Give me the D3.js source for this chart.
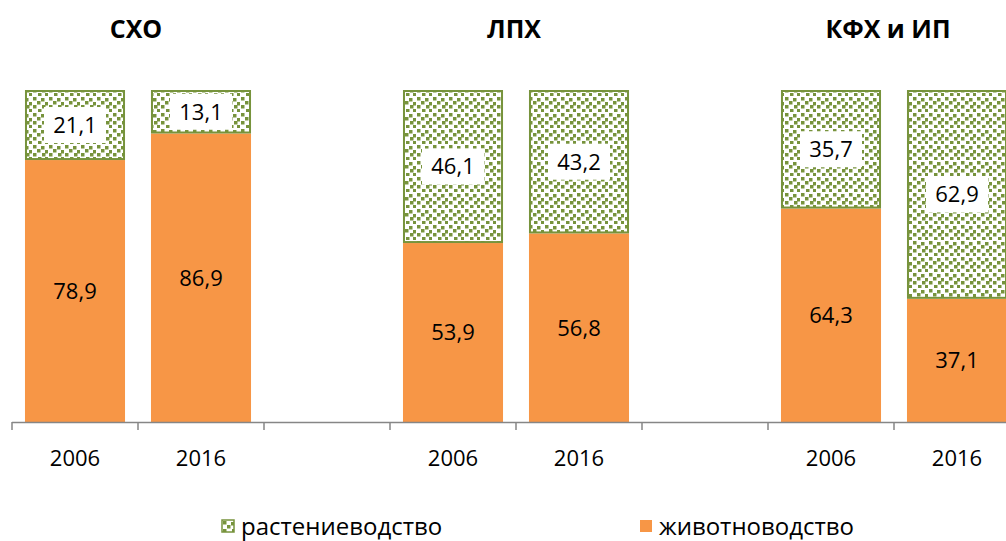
<!DOCTYPE html>
<html>
<head>
<meta charset="utf-8">
<script src="https://cdn.jsdelivr.net/npm/d3@7"></script>
<style>
  body { margin: 0; background: #fff; }
  svg text { font-family: "Open Sans", "Noto Sans", sans-serif; fill: #000; }
</style>
</head>
<body>
<div id="chart"></div>
<script>
// chart data
var categories = ["2006", "2016", "", "2006", "2016", "", "2006", "2016"];
var groups = ["СХО", "ЛПХ", "КФХ и ИП"];
var livestock = [78.9, 86.9, null, 53.9, 56.8, null, 64.3, 37.1];
var crops = [21.1, 13.1, null, 46.1, 43.2, null, 35.7, 62.9];
var seriesNames = ["растениеводство", "животноводство"];

var width = 1006, height = 541;
var orange = "#F79646", green = "#77933C";

var svg = d3.select("#chart").append("svg")
    .attr("width", width)
    .attr("height", height);

// confetti pattern (slightly jittered squares)
var defs = svg.append("defs");
var pat = defs.append("pattern")
    .attr("id", "confetti")
    .attr("patternUnits", "userSpaceOnUse")
    .attr("width", 16).attr("height", 16);
pat.append("rect").attr("width", 16).attr("height", 16).attr("fill", "#fff");
[[1, 1], [9, 2], [5, 5], [13, 6], [1, 9], [10, 9], [6, 13], [13, 13]].forEach(function (p) {
    pat.append("rect")
        .attr("x", p[0]).attr("y", p[1])
        .attr("width", 3.5).attr("height", 3.5)
        .attr("fill", green);
});

var keys = categories.map(function (d, i) { return i; });

var x = d3.scaleBand()
    .domain(keys)
    .range([12, 1020])
    .paddingInner(0.206)
    .paddingOuter(0.103);

var y = d3.scaleLinear()
    .domain([0, 100])
    .range([422, 90]);

var step = x.step();

// group titles
groups.forEach(function (g, i) {
    var cx = x(i * 3 + 1) - (step - x.bandwidth()) / 2;
    svg.append("text")
        .attr("x", i == 2 ? cx - 6 : cx - 2)
        .attr("y", 38)
        .attr("text-anchor", "middle")
        .style("font-size", "25px")
        .style("font-weight", "bold")
        .text(g);
});

var idx = keys.filter(function (i) { return livestock[i] != null; });

// livestock (bottom)
svg.selectAll(".live")
    .data(idx)
    .enter().append("rect")
    .attr("class", "live")
    .attr("x", function (i) { return x(i); })
    .attr("width", x.bandwidth())
    .attr("y", function (i) { return y(livestock[i]); })
    .attr("height", function (i) { return y(0) - y(livestock[i]); })
    .attr("fill", orange);

// crops (top)
svg.selectAll(".crop")
    .data(idx)
    .enter().append("rect")
    .attr("class", "crop")
    .attr("x", function (i) { return x(i) + 1; })
    .attr("width", x.bandwidth() - 2)
    .attr("y", function (i) { return y(livestock[i] + crops[i]) + 1; })
    .attr("height", function (i) { return y(livestock[i]) - y(livestock[i] + crops[i]) - 2; })
    .attr("fill", "url(#confetti)")
    .attr("stroke", green)
    .attr("stroke-width", 2);

// labels on livestock
svg.selectAll(".liveLabel")
    .data(idx)
    .enter().append("text")
    .attr("x", function (i) { return x(i) + x.bandwidth() / 2; })
    .attr("y", function (i) { return (y(0) + y(livestock[i])) / 2; })
    .attr("dy", "0.36em")
    .attr("text-anchor", "middle")
    .style("font-size", "22px")
    .text(function (i) { return String(livestock[i]).replace(".", ","); });

// labels on crops, white box behind
var cl = svg.selectAll(".cropLabel")
    .data(idx)
    .enter().append("g")
    .attr("transform", function (i) {
        var cy = (y(livestock[i]) + y(livestock[i] + crops[i])) / 2;
        return "translate(" + (x(i) + x.bandwidth() / 2) + "," + cy + ")";
    });
cl.append("rect")
    .attr("x", -31).attr("y", -18)
    .attr("width", 62).attr("height", 36)
    .attr("fill", "#fff");
cl.append("text")
    .attr("dy", "0.36em")
    .attr("text-anchor", "middle")
    .style("font-size", "22px")
    .text(function (i) { return String(crops[i]).replace(".", ","); });

// x axis
svg.append("line")
    .attr("x1", 12).attr("x2", width)
    .attr("y1", y(0) + 0.5).attr("y2", y(0) + 0.5)
    .attr("stroke", "#868686").attr("stroke-width", 1.5);

svg.selectAll(".tick")
    .data(keys)
    .enter().append("line")
    .attr("x1", function (i) { return x(i) - (step - x.bandwidth()) / 2; })
    .attr("x2", function (i) { return x(i) - (step - x.bandwidth()) / 2; })
    .attr("y1", y(0)).attr("y2", y(0) + 8)
    .attr("stroke", "#868686").attr("stroke-width", 1.5);

svg.selectAll(".year")
    .data(keys)
    .enter().append("text")
    .attr("x", function (i) { return x(i) + x.bandwidth() / 2; })
    .attr("y", 466)
    .attr("text-anchor", "middle")
    .style("font-size", "22px")
    .text(function (i) { return categories[i]; });

// legend
var legend = [
    { name: seriesNames[0], fill: "url(#confetti)", stroke: green, x: 222 },
    { name: seriesNames[1], fill: orange, stroke: "none", x: 640 }
];
var lg = svg.selectAll(".legend")
    .data(legend)
    .enter().append("g")
    .attr("transform", function (d) { return "translate(" + d.x + ",520)"; });
lg.append("rect")
    .attr("width", 12).attr("height", 12)
    .attr("fill", function (d) { return d.fill; })
    .attr("stroke", function (d) { return d.stroke; })
    .attr("stroke-width", 1.5);
lg.append("text")
    .attr("x", 19)
    .attr("y", 6)
    .attr("dy", "0.36em")
    .style("font-size", "24px")
    .text(function (d) { return d.name; });
</script>
</body>
</html>
